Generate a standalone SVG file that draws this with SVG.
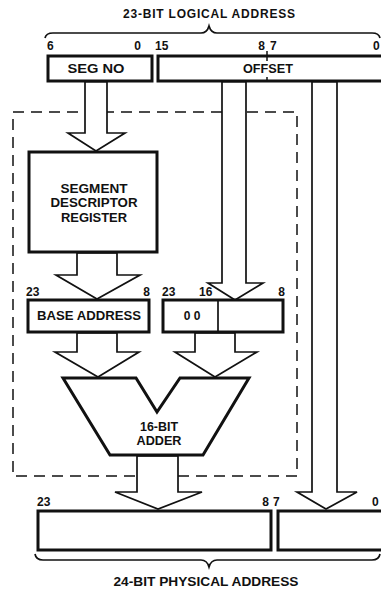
<svg xmlns="http://www.w3.org/2000/svg" width="381" height="589" viewBox="0 0 381 589">
<style>
text{font-family:"Liberation Sans",Arial,sans-serif;font-weight:bold;font-size:12px;fill:#111}
.c{text-anchor:middle}
.e{text-anchor:end}
.box{fill:#fff;stroke:#111;stroke-width:3}
.arr{fill:#fff;stroke:#111;stroke-width:1.7;stroke-linejoin:miter}
.brace{fill:none;stroke:#111;stroke-width:1.7}
.dash{fill:none;stroke:#111;stroke-width:1.5;stroke-dasharray:11 7}
</style>
<rect width="381" height="589" fill="#fff"/>
<g id="dashed-boundary"><rect class="dash" x="13" y="112" width="284" height="364"/></g>
<g id="logical-address">
<text class="c" x="209" y="18" textLength="172" lengthAdjust="spacing">23-BIT LOGICAL ADDRESS</text>
<path class="brace" d="M45,38 Q46,33 53,33 L201,33 Q207,33 209,26 Q211,33 217,33 L372,33 Q379,33 380,38"/>
<text x="47" y="50">6</text><text class="e" x="141" y="50">0</text>
<text x="155" y="50">15</text><text class="e" x="265" y="50">8</text><text x="270" y="50">7</text>
<text x="373" y="50">0</text>
</g>
<g id="seg-no"><rect class="box" x="48" y="56" width="104" height="25"/><text class="c" x="96" y="73" textLength="57" lengthAdjust="spacingAndGlyphs">SEG NO</text></g>
<g id="offset"><rect class="box" x="158" y="56" width="232" height="25"/><line x1="267" y1="51" x2="267" y2="61" stroke="#111" stroke-width="1.5"/><line x1="267" y1="77" x2="267" y2="81" stroke="#111" stroke-width="1.5"/><text class="c" x="268" y="73" textLength="50" lengthAdjust="spacingAndGlyphs">OFFSET</text></g>
<g id="connectors">
<polygon class="arr" points="85,82 107,82 107,133 125,133 96,151 68,133 85,133"/>
<polygon class="arr" points="77,253 117,253 117,275 140,275 97,299 56,275 77,275"/>
<polygon class="arr" points="222,82 246,82 246,283 263,283 235,300 208,283 222,283"/>
<polygon class="arr" points="77,333 117,333 117,352 139,352 98,377 55,352 77,352"/>
<polygon class="arr" points="195,333 235,333 235,352 257,352 215,377 175,352 195,352"/>
<polygon class="arr" points="137,456 178,456 178,492 202,492 158,509 115,492 137,492"/>
<polygon class="arr" points="312,82 337,82 337,492 357,492 326,509 297,492 312,492"/>
</g>
<g id="segment-descriptor-register"><rect class="box" x="29" y="152" width="128" height="100"/>
<text class="c" x="94" y="193" textLength="67" lengthAdjust="spacingAndGlyphs">SEGMENT</text>
<text class="c" x="94" y="207" textLength="87" lengthAdjust="spacingAndGlyphs">DESCRIPTOR</text>
<text class="c" x="94" y="222" textLength="66" lengthAdjust="spacingAndGlyphs">REGISTER</text></g>
<g id="bit-labels-mid"><text x="26" y="296">23</text><text class="e" x="150" y="296">8</text><text x="162" y="296">23</text><text x="199" y="296">16</text><text class="e" x="285" y="296">8</text></g>
<g id="base-address"><rect class="box" x="28" y="300" width="121" height="32"/><text class="c" x="89" y="320" textLength="104" lengthAdjust="spacingAndGlyphs">BASE ADDRESS</text></g>
<g id="offset-extended"><rect class="box" x="163" y="300" width="120" height="32"/><line x1="218" y1="300" x2="218" y2="332" stroke="#111" stroke-width="1.7"/><text class="c" x="192" y="320">0 0</text></g>
<g id="adder"><polygon class="box" points="63,378 136,378 157,412 180,378 249,378 203,455 110,455"/>
<text class="c" x="159" y="431" textLength="38" lengthAdjust="spacingAndGlyphs">16-BIT</text>
<text class="c" x="159" y="445" textLength="45" lengthAdjust="spacingAndGlyphs">ADDER</text></g>
<g id="physical-address">
<text x="37" y="506">23</text><text class="e" x="269" y="506">8</text><text x="273" y="506">7</text><text x="372" y="506">0</text>
<rect class="box" x="38" y="511" width="233" height="39"/>
<rect class="box" x="278" y="511" width="112" height="39"/>
<path class="brace" d="M35,554 Q36,560 43,560 L201,560 Q207,560 209,567 Q211,560 217,560 L372,560 Q379,560 380,554"/>
<text class="c" x="206" y="586" textLength="185" lengthAdjust="spacingAndGlyphs">24-BIT PHYSICAL ADDRESS</text>
</g>
</svg>
